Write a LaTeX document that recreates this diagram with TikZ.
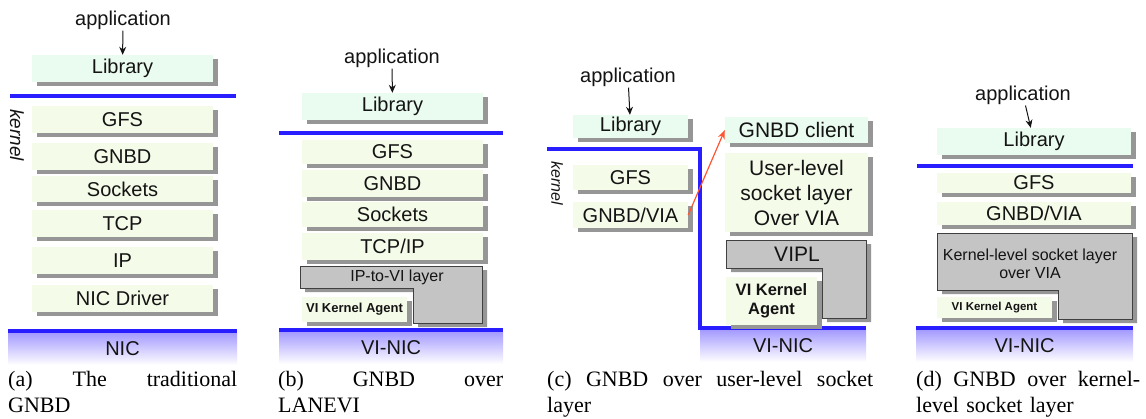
\documentclass[tikz,border=0pt]{standalone}
\usepackage{fontspec}
\setmainfont{Liberation Serif}
\setsansfont{Liberation Sans}
\usetikzlibrary{arrows.meta,shadows}
\definecolor{libg}{RGB}{234,251,239}
\definecolor{layg}{RGB}{244,251,232}
\definecolor{shg}{RGB}{150,150,150}
\definecolor{lblue}{RGB}{40,30,255}
\definecolor{gradc}{RGB}{165,155,255}
\definecolor{lgray}{RGB}{196,196,196}
\definecolor{ink}{RGB}{20,20,20}
\definecolor{redarr}{RGB}{255,85,50}
\newcommand\myfs[2]{\fontsize{#1pt}{#2pt}\selectfont}
\begin{document}
\begin{tikzpicture}[x=1pt,y=-1pt,
  shad/.style={drop shadow={shadow xshift=5pt,shadow yshift=-4pt,fill=shg,opacity=1}},
  lyr/.style={shad, fill=layg, inner sep=0pt, text=ink, font=\sffamily\myfs{20}{24}},
  lib/.style={lyr, fill=libg},
  app/.style={inner sep=1pt, text=ink, font=\sffamily\myfs{20}{24}},
  appar/.style={-{Stealth[length=8pt,width=7pt]}, line width=1pt, draw=ink},
  bline/.style={draw=lblue, line width=4.5pt},
  nic/.style={top color=gradc, bottom color=white, inner sep=0pt, font=\sffamily\myfs{20}{24}, text=ink},
  lshape/.style={shad, fill=lgray, draw=black!75, line width=0.8pt},
  agent/.style={lyr, font=\sffamily\bfseries\myfs{13}{15}},
  kern/.style={font=\sffamily\itshape\myfs{19}{22}, rotate=-90, text=ink, inner sep=0pt},
  capt/.style={font=\rmfamily\myfs{22}{26}, inner sep=0pt, anchor=base west, align=left},
]
\fill[white] (0,0) rectangle (1146,418);
\useasboundingbox (0,0) rectangle (1146,418);

% ---------- (a)
\node[app] (a-app) at (123,20) {application};
\node[lib, minimum width=181pt, minimum height=27pt] (a-lib) at (122.5,68.5) {Library};
\draw[appar] (a-app) -- (a-lib);
\draw[bline] (10,96) -- (236,96);
\node[kern] (a-kern) at (17,135) {kernel};
\node[lyr, minimum width=181pt, minimum height=27pt] (a-gfs) at (122.5,119.5) {GFS};
\node[lyr, minimum width=181pt, minimum height=27pt] (a-gnbd) at (122.5,156.5) {GNBD};
\node[lyr, minimum width=181pt, minimum height=26pt] (a-sock) at (122.5,189) {Sockets};
\node[lyr, minimum width=181pt, minimum height=27pt] (a-tcp) at (122.5,223.5) {TCP};
\node[lyr, minimum width=181pt, minimum height=27pt] (a-ip) at (122.5,260.5) {IP};
\node[lyr, minimum width=181pt, minimum height=27pt] (a-drv) at (122.5,298.5) {NIC Driver};
\draw[bline] (8,331) -- (237,331);
\node[nic, minimum width=229pt, minimum height=32pt] (a-nic) at (122.5,349) {NIC};
\node[capt, text width=229pt] (a-cap1) at (8,386) {(a)\hfill The\hfill traditional};
\node[capt, text width=229pt] (a-cap2) at (8,412) {GNBD};

% ---------- (b)
\node[app] (b-app) at (392,58) {application};
\node[lib, minimum width=181pt, minimum height=27pt] (b-lib) at (392.5,106.5) {Library};
\draw[appar] (b-app) -- (b-lib);
\draw[bline] (279,133) -- (503,133);
\node[lyr, minimum width=181pt, minimum height=24pt] (b-gfs) at (392.5,152) {GFS};
\node[lyr, minimum width=181pt, minimum height=27pt] (b-gnbd) at (392.5,183.5) {GNBD};
\node[lyr, minimum width=181pt, minimum height=25pt] (b-sock) at (392.5,214.5) {Sockets};
\node[lyr, minimum width=181pt, minimum height=27pt] (b-tcp) at (392.5,246.5) {TCP/IP};
\draw[lshape] (300,266) -- (482,266) -- (482,323) -- (413,323) -- (413,288) -- (300,288) -- cycle;
\node[font=\sffamily\myfs{16}{19}, text=ink] (b-ipvi) at (397,277) {IP-to-VI layer};
\node[agent, minimum width=105pt, minimum height=25pt] (b-agent) at (354.5,309.5) {VI Kernel Agent};
\draw[bline] (279,330) -- (503,330);
\node[nic, minimum width=224pt, minimum height=32pt] (b-nic) at (391,348) {VI-NIC};
\node[capt, text width=225pt] (b-cap1) at (278,386) {(b)\hfill GNBD\hfill over};
\node[capt, text width=225pt] (b-cap2) at (278,412) {LANEVI};

% ---------- (c)
\node[app] (c-app) at (628,77) {application};
\node[lib, minimum width=115pt, minimum height=23pt] (c-lib) at (630.5,126.5) {Library};
\draw[appar] (c-app) -- (c-lib);
\draw[bline] (547,149) -- (700,149) -- (700,328) -- (866,328);
\node[kern, font=\sffamily\itshape\myfs{16}{19}] (c-kern) at (557,183) {kernel};
\node[lyr, minimum width=115pt, minimum height=25pt] (c-gfs) at (630.5,177.5) {GFS};
\node[lyr, minimum width=115pt, minimum height=26pt] (c-gnbdvia) at (630.5,215) {GNBD/VIA};
\node[lib, minimum width=143pt, minimum height=26pt, font=\sffamily\myfs{21}{25}] (c-client) at (796.5,130) {GNBD client};
\node[lyr, minimum width=143pt, minimum height=79pt, align=center, font=\sffamily\myfs{21}{25}] (c-user) at (796.5,192.5) {User-level\\socket layer\\Over VIA};
\draw[lshape] (726,240) -- (866,240) -- (866,318) -- (822,318) -- (822,268) -- (726,268) -- cycle;
\node[font=\sffamily\myfs{21}{25}, text=ink] (c-vipl) at (797,254) {VIPL};
\node[agent, minimum width=91pt, minimum height=48pt, align=center, font=\sffamily\bfseries\myfs{16.5}{19}] (c-agent) at (771.5,301) {VI Kernel\\Agent};
\draw[draw=redarr, line width=1.2pt, -{Stealth[length=9pt,width=7pt]}] (c-gnbdvia.east) -- (c-client.west);
\node[nic, minimum width=166pt, minimum height=32pt] (c-nic) at (783,346) {VI-NIC};
\node[capt, text width=326pt] (c-cap1) at (547,386) {(c)\hfill GNBD\hfill over\hfill user-level\hfill socket};
\node[capt, text width=326pt] (c-cap2) at (547,412) {layer};

% ---------- (d)
\node[app] (d-app) at (1023,95) {application};
\node[lib, minimum width=194pt, minimum height=27pt] (d-lib) at (1034,141.5) {Library};
\draw[appar] (d-app) -- (d-lib);
\draw[bline] (917,166) -- (1133,166);
\node[lyr, minimum width=194pt, minimum height=20pt] (d-gfs) at (1034,183) {GFS};
\node[lyr, minimum width=194pt, minimum height=23pt] (d-gnbdvia) at (1034,213.5) {GNBD/VIA};
\draw[lshape] (937,233) -- (1132,233) -- (1132,319) -- (1058,319) -- (1058,290) -- (937,290) -- cycle;
\node[font=\sffamily\myfs{16}{18}, align=center, text=ink] (d-kl) at (1030,264) {Kernel-level socket layer\\over VIA};
\node[agent, minimum width=115pt, minimum height=21pt, font=\sffamily\bfseries\myfs{11.5}{14}] (d-agent) at (994.5,307.5) {VI Kernel Agent};
\draw[bline] (916,328) -- (1133,328);
\node[nic, minimum width=217pt, minimum height=32pt] (d-nic) at (1024.5,346) {VI-NIC};
\node[capt, text width=224pt] (d-cap1) at (916,386) {(d)\hfill GNBD\hfill over\hfill kernel-};
\node[capt, text width=224pt] (d-cap2) at (916,412) {level socket layer};
\end{tikzpicture}
\end{document}
